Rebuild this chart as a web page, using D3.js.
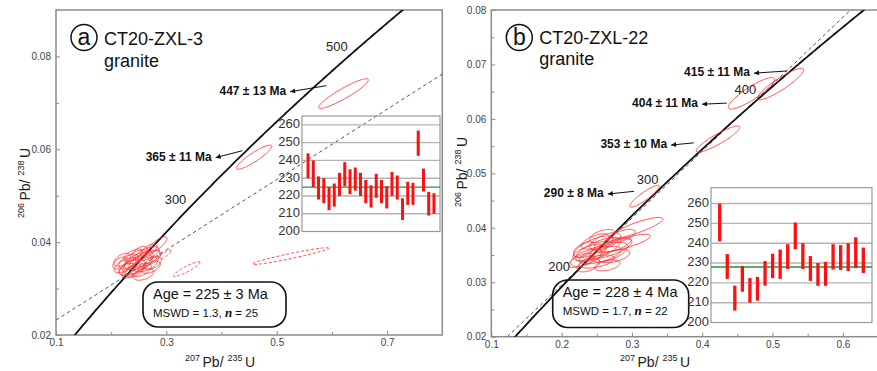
<!DOCTYPE html>
<html>
<head>
<meta charset="utf-8">
<script src="https://cdn.jsdelivr.net/npm/d3@7"></script>
<style>
  body { margin: 0; background: #fff; }
  svg { display: block; font-family: 'Liberation Sans', Arial, sans-serif; }
</style>
</head>
<body>
<div id="chart"></div>
<script>
// decay constants (1/yr)
var L238 = 1.55125e-10;
var L235 = 9.8485e-10;

// ---- panel a : CT20-ZXL-3 ----
// ellipse = [207/235, 206/238, half-width x, half-height y, rho]
var ellipsesA = [
  [0.225, 0.0350, 0.020, 0.0016, 0.6],
  [0.238, 0.0345, 0.024, 0.0017, 0.5],
  [0.250, 0.0360, 0.026, 0.0019, 0.6],
  [0.262, 0.0352, 0.022, 0.0016, 0.5],
  [0.245, 0.0368, 0.020, 0.0015, 0.6],
  [0.232, 0.0358, 0.018, 0.0016, 0.5],
  [0.270, 0.0365, 0.020, 0.0017, 0.6],
  [0.255, 0.0340, 0.018, 0.0014, 0.5],
  [0.240, 0.0372, 0.017, 0.0013, 0.6],
  [0.265, 0.0375, 0.022, 0.0015, 0.6],
  [0.220, 0.0362, 0.015, 0.0014, 0.5],
  [0.258, 0.0331, 0.019, 0.0013, 0.4],
  [0.248, 0.0352, 0.027, 0.0021, 0.6],
  [0.275, 0.0355, 0.016, 0.0014, 0.5],
  [0.235, 0.0336, 0.015, 0.0013, 0.5],
  [0.283, 0.0394, 0.018, 0.0018, 0.8],
  [0.268, 0.0382, 0.015, 0.0014, 0.6],
  [0.228, 0.0342, 0.013, 0.0013, 0.5],
  [0.252, 0.0378, 0.013, 0.0013, 0.5],
  [0.260, 0.0362, 0.028, 0.0021, 0.7],
  [0.243, 0.0340, 0.017, 0.0015, 0.5],
  [0.272, 0.0346, 0.017, 0.0013, 0.5],
  [0.216, 0.0355, 0.013, 0.0013, 0.5],
  [0.621, 0.0720, 0.045, 0.0032, 0.92],
  [0.459, 0.0583, 0.032, 0.0026, 0.90]
];
var dashedEllipsesA = [
  [0.337, 0.0342, 0.024, 0.0016, 0.91],
  [0.525, 0.0370, 0.069, 0.0018, 0.95],
  [0.297, 0.0373, 0.012, 0.0010, 0.85]
];
var discordiaA = [[0.1, 0.0232], [0.8, 0.0762]];
var concordiaLabelsA = [300, 500];
// [text, text end x, text y, arrow end x, arrow end y]
var annotationsA = [
  ['447 ± 13 Ma', 0.517, 0.0724, 0.590, 0.0737],
  ['365 ± 11 Ma', 0.382, 0.0582, 0.438, 0.0597]
];
// individual ages [low, high] Ma
var agesA = [
  [230, 244], [225, 240], [218, 231], [216, 230], [212, 225],
  [214, 227], [220, 233], [225.5, 239], [221, 235], [223, 236],
  [220, 233], [216, 229], [213.5, 226], [219, 232.5], [216, 229],
  [213, 225.5], [220, 233.5], [218, 231.5], [206.5, 218.7], [215, 228],
  [215, 227.4], [242.6, 256.8], [222.5, 235.4], [209, 222.3], [210, 221.5]
];
var meanAgeA = 225;
var xTicksA = [0.1, 0.3, 0.5, 0.7];
var xMinorA = [0.2, 0.4, 0.6];
var yTicksA = [0.02, 0.04, 0.06, 0.08];
var yMinorA = [0.03, 0.05, 0.07];
var insetDomainA = [200, 265];
var insetTicksA = [200, 210, 220, 230, 240, 250, 260];

// ---- panel b : CT20-ZXL-22 ----
var ellipsesB = [
  [0.307, 0.0400, 0.037, 0.0019, 0.85],
  [0.290, 0.0372, 0.036, 0.0016, 0.80],
  [0.270, 0.0362, 0.030, 0.0018, 0.70],
  [0.255, 0.0350, 0.030, 0.0016, 0.60],
  [0.245, 0.0365, 0.028, 0.0020, 0.70],
  [0.235, 0.0345, 0.022, 0.0016, 0.60],
  [0.262, 0.0375, 0.022, 0.0016, 0.60],
  [0.250, 0.0338, 0.025, 0.0012, 0.50],
  [0.240, 0.0355, 0.024, 0.0015, 0.60],
  [0.228, 0.0340, 0.018, 0.0013, 0.60],
  [0.275, 0.0348, 0.022, 0.0012, 0.50],
  [0.258, 0.0385, 0.018, 0.0012, 0.50],
  [0.265, 0.0331, 0.018, 0.0010, 0.40],
  [0.248, 0.0375, 0.020, 0.0014, 0.60],
  [0.285, 0.0385, 0.020, 0.0012, 0.60],
  [0.232, 0.0360, 0.015, 0.0014, 0.50],
  [0.268, 0.0355, 0.026, 0.0018, 0.60],
  [0.252, 0.0360, 0.032, 0.0022, 0.70],
  [0.238, 0.0331, 0.016, 0.0012, 0.50],
  [0.275, 0.0368, 0.024, 0.0014, 0.70],
  [0.318, 0.0458, 0.021, 0.0020, 0.90],
  [0.4225, 0.0563, 0.031, 0.0024, 0.90],
  [0.470, 0.0647, 0.033, 0.0029, 0.88],
  [0.5114, 0.0664, 0.033, 0.0029, 0.90]
];
var dashedEllipsesB = [];
var discordiaB = [[0.1227, 0.02], [0.611, 0.08]];
var concordiaLabelsB = [200, 300, 400];
var annotationsB = [
  ['415 ± 11 Ma', 0.468, 0.0684, 0.5205, 0.0688],
  ['404 ± 11 Ma', 0.394, 0.0627, 0.435, 0.0629],
  ['353 ± 10 Ma', 0.350, 0.0552, 0.388, 0.0556],
  ['290 ± 8 Ma', 0.260, 0.0462, 0.303, 0.0467]
];
var agesB = [
  [241, 260], [222, 234.5], [206, 218.6], [215.5, 228.5], [210, 222.4],
  [211, 223], [218.6, 231], [222.4, 234.7], [222, 236.8], [227, 239.5],
  [237, 250.4], [227, 240], [221, 233.5], [218.5, 230], [218.5, 230.6],
  [226.7, 239.5], [226.5, 239], [226, 240], [227.5, 243], [225, 237.8]
];
var meanAgeB = 228;
var xTicksB = [0.1, 0.2, 0.3, 0.4, 0.5, 0.6];
var xMinorB = [0.15, 0.25, 0.35, 0.45, 0.55, 0.65];
var yTicksB = [0.02, 0.03, 0.04, 0.05, 0.06, 0.07, 0.08];
var yMinorB = [0.025, 0.035, 0.045, 0.055, 0.065, 0.075];
var insetDomainB = [200, 268];
var insetTicksB = [200, 210, 220, 230, 240, 250, 260];

// ---- layout ----
var panels = [
  {
    key: 'a', title: 'CT20-ZXL-3', age: 'Age = 225 ± 3 Ma', mswd: '1.3', n: '25',
    left: 56, top: 10, right: 442.3, bottom: 335,
    xDomain: [0.1, 0.8], yDomain: [0.02, 0.09],
    xTicks: xTicksA, xMinor: xMinorA, yTicks: yTicksA, yMinor: yMinorA, xFmt: '.1f',
    ellipses: ellipsesA, dashed: dashedEllipsesA, discordia: discordiaA,
    concLabels: concordiaLabelsA, notes: annotationsA,
    ages: agesA, mean: meanAgeA, insetDomain: insetDomainA, insetTicks: insetTicksA,
    inset: {left: 302, right: 440, top: 116, bottom: 231.5, barW: 3},
    box: {x: 143, y: 282, w: 143, h: 45},
    titleY: 44.5, graniteY: 67, circleY: 37.5,
    yLabel: [25, 183], xLabelX: 185
  },
  {
    key: 'b', title: 'CT20-ZXL-22', age: 'Age = 228 ± 4 Ma', mswd: '1.7', n: '22',
    left: 491.3, top: 10, right: 881.5, bottom: 336.7,
    xDomain: [0.1, 0.655], yDomain: [0.02, 0.08],
    xTicks: xTicksB, xMinor: xMinorB, yTicks: yTicksB, yMinor: yMinorB, xFmt: '.1f',
    ellipses: ellipsesB, dashed: dashedEllipsesB, discordia: discordiaB,
    concLabels: concordiaLabelsB, notes: annotationsB,
    ages: agesB, mean: meanAgeB, insetDomain: insetDomainB, insetTicks: insetTicksB,
    inset: {left: 711, right: 872, top: 187.7, bottom: 322.5, barW: 3.3},
    box: {x: 552.7, y: 280, w: 136, h: 47.5},
    titleY: 43.5, graniteY: 65, circleY: 37.5,
    yLabel: [462, 172], xLabelX: 620
  }
];

var NBSP = '\u00a0';

var svg = d3.select('#chart').append('svg')
  .attr('width', 877)
  .attr('height', 371);

var defs = svg.append('defs');
defs.append('marker')
  .attr('id', 'arrow')
  .attr('viewBox', '0 0 10 10')
  .attr('refX', 10)
  .attr('refY', 5)
  .attr('markerWidth', 7)
  .attr('markerHeight', 5)
  .attr('orient', 'auto-start-reverse')
  .append('path')
  .attr('d', 'M0,0 L10,5 L0,10 z')
  .attr('fill', '#111');

function concordiaPoint(t) {
  return [Math.exp(L235 * t * 1e6) - 1, Math.exp(L238 * t * 1e6) - 1];
}

function ellipsePoints(e) {
  var pts = [];
  var k = Math.sqrt(1 - e[4] * e[4]);
  for (var i = 0; i <= 90; i++) {
    var a = i / 90 * 2 * Math.PI;
    pts.push([e[0] + e[2] * Math.cos(a), e[1] + e[3] * (e[4] * Math.cos(a) + k * Math.sin(a))]);
  }
  return pts;
}

panels.forEach(drawPanel);

function drawPanel(p) {
  var x = d3.scaleLinear().domain(p.xDomain).range([p.left, p.right]);
  var y = d3.scaleLinear().domain(p.yDomain).range([p.bottom, p.top]);
  var line = d3.line().x((d) => x(d[0])).y((d) => y(d[1]));
  var g = svg.append('g');

  defs.append('clipPath').attr('id', 'clip-' + p.key)
    .append('rect')
    .attr('x', p.left).attr('y', p.top)
    .attr('width', p.right - p.left).attr('height', p.bottom - p.top);

  // frame
  g.append('rect')
    .attr('x', p.left).attr('y', p.top)
    .attr('width', p.right - p.left).attr('height', p.bottom - p.top)
    .attr('fill', 'none')
    .attr('stroke', '#8a8a8a')
    .attr('stroke-width', 1.5);

  // axes, ticks pointing inward
  g.append('g').attr('transform', 'translate(' + p.left + ',0)')
    .call(d3.axisLeft(y).tickValues(p.yTicks).tickFormat(d3.format('.2f')).tickSize(-4).tickPadding(5));
  g.append('g').attr('transform', 'translate(' + p.left + ',0)')
    .call(d3.axisLeft(y).tickValues(p.yMinor).tickFormat('').tickSize(-3));
  g.append('g').attr('transform', 'translate(0,' + p.bottom + ')')
    .call(d3.axisBottom(x).tickValues(p.xTicks).tickFormat(d3.format(p.xFmt)).tickSize(-4).tickPadding(4));
  g.append('g').attr('transform', 'translate(0,' + p.bottom + ')')
    .call(d3.axisBottom(x).tickValues(p.xMinor).tickFormat('').tickSize(-3));
  g.selectAll('.domain').remove();
  g.selectAll('.tick line').attr('stroke', '#8a8a8a');
  g.selectAll('.tick text')
    .attr('fill', '#444')
    .style('font-size', '10px')
    .style('font-family', "'Liberation Sans', Arial, sans-serif");

  // axis titles
  var xt = g.append('text')
    .attr('x', p.xLabelX).attr('y', 367)
    .attr('fill', '#222');
  xt.append('tspan').attr('font-size', 9).attr('dy', -6).text('207' + NBSP);
  xt.append('tspan').attr('font-size', 14).attr('dy', 6).text('Pb/' + NBSP);
  xt.append('tspan').attr('font-size', 9).attr('dy', -6).text('235' + NBSP);
  xt.append('tspan').attr('font-size', 14).attr('dy', 6).text('U');

  var yt = g.append('text')
    .attr('transform', 'translate(' + (p.yLabel[0] + 5) + ',' + p.yLabel[1] + ') rotate(-90)')
    .attr('text-anchor', 'middle')
    .attr('fill', '#222');
  yt.append('tspan').attr('font-size', 9).attr('dy', -6).text('206' + NBSP);
  yt.append('tspan').attr('font-size', 14).attr('dy', 6).text('Pb/' + NBSP);
  yt.append('tspan').attr('font-size', 9).attr('dy', -6).text('238' + NBSP);
  yt.append('tspan').attr('font-size', 14).attr('dy', 6).text('U');

  // inset with individual ages
  drawInset(p);

  var plot = g.append('g').attr('clip-path', 'url(#clip-' + p.key + ')');

  // discordia (dashed)
  plot.append('path')
    .attr('d', line(p.discordia))
    .attr('fill', 'none')
    .attr('stroke', '#555')
    .attr('stroke-width', 1)
    .attr('stroke-dasharray', '3.5,3');

  // concordia
  var conc = d3.range(0, 702, 2).map(concordiaPoint);
  plot.append('path')
    .attr('d', line(conc))
    .attr('fill', 'none')
    .attr('stroke', '#111')
    .attr('stroke-width', 1.8);

  // error ellipses
  plot.selectAll('.ell')
    .data(p.ellipses)
    .enter().append('path')
    .attr('class', 'ell')
    .attr('d', (d) => line(ellipsePoints(d)))
    .attr('fill', 'none')
    .attr('stroke', '#ff3535')
    .attr('stroke-width', 0.85);

  plot.selectAll('.ell-dash')
    .data(p.dashed)
    .enter().append('path')
    .attr('class', 'ell-dash')
    .attr('d', (d) => line(ellipsePoints(d)))
    .attr('fill', 'none')
    .attr('stroke', '#ff3535')
    .attr('stroke-width', 0.9)
    .attr('stroke-dasharray', '3,2');

  // concordia age labels
  g.selectAll('.conc-label')
    .data(p.concLabels)
    .enter().append('text')
    .attr('class', 'conc-label')
    .attr('x', (d) => x(concordiaPoint(d)[0]) - 15)
    .attr('y', (d) => y(concordiaPoint(d)[1]) - 6)
    .attr('text-anchor', 'middle')
    .attr('dominant-baseline', 'middle')
    .attr('font-size', 13)
    .attr('fill', '#222')
    .text((d) => d);

  // spot age annotations
  var notes = g.selectAll('.note')
    .data(p.notes)
    .enter().append('g')
    .attr('class', 'note');
  notes.append('text')
    .attr('x', (d) => x(d[1]))
    .attr('y', (d) => y(d[2]))
    .attr('text-anchor', 'end')
    .attr('dominant-baseline', 'middle')
    .attr('font-size', 12)
    .attr('font-weight', 'bold')
    .attr('fill', '#111')
    .text((d) => d[0]);
  notes.append('path')
    .attr('d', (d) => 'M' + (x(d[1]) + 4) + ',' + y(d[2]) + 'L' + x(d[3]) + ',' + y(d[4]))
    .attr('stroke', '#111')
    .attr('stroke-width', 1)
    .attr('marker-start', 'url(#arrow)');

  // title
  var cx = p.left + 28;
  g.append('circle')
    .attr('cx', cx).attr('cy', p.circleY).attr('r', 13)
    .attr('fill', 'none').attr('stroke', '#111').attr('stroke-width', 1.5);
  g.append('text')
    .attr('x', cx).attr('y', p.circleY + 7.5)
    .attr('text-anchor', 'middle')
    .attr('font-size', 23)
    .attr('fill', '#111')
    .text(p.key);
  g.append('text')
    .attr('x', p.left + 48).attr('y', p.titleY)
    .attr('font-size', 18).attr('fill', '#111')
    .text(p.title);
  g.append('text')
    .attr('x', p.left + 48).attr('y', p.graniteY)
    .attr('font-size', 18).attr('fill', '#111')
    .text('granite');

  // weighted mean age box
  var b = p.box;
  g.append('rect')
    .attr('x', b.x).attr('y', b.y).attr('width', b.w).attr('height', b.h)
    .attr('rx', 15).attr('ry', 15)
    .attr('fill', 'none').attr('stroke', '#111').attr('stroke-width', 1.6);
  g.append('text')
    .attr('x', b.x + 10).attr('y', b.y + 16.5)
    .attr('font-size', 14.5).attr('fill', '#111')
    .text(p.age);
  var ms = g.append('text')
    .attr('x', b.x + 10).attr('y', b.y + 35)
    .attr('font-size', 11.5).attr('fill', '#111');
  ms.append('tspan').text('MSWD = ' + p.mswd + ',' + NBSP);
  ms.append('tspan')
    .attr('font-family', "'Liberation Serif', 'DejaVu Serif', serif")
    .attr('font-style', 'italic').attr('font-weight', 'bold')
    .attr('font-size', 13)
    .text('n');
  ms.append('tspan').text(NBSP + '= ' + p.n);
}

function drawInset(p) {
  var r = p.inset;
  var g = svg.append('g');
  var ys = d3.scaleLinear().domain(p.insetDomain).range([r.bottom, r.top]);
  var xs = d3.scalePoint()
    .domain(d3.range(p.ages.length))
    .range([r.left, r.right])
    .padding(1.15);

  g.selectAll('.grid')
    .data(p.insetTicks.slice(1))
    .enter().append('line')
    .attr('x1', r.left).attr('x2', r.right)
    .attr('y1', (d) => ys(d)).attr('y2', (d) => ys(d))
    .attr('stroke', '#b4b4b4')
    .attr('stroke-width', 1.4);

  g.append('rect')
    .attr('x', r.left).attr('y', r.top)
    .attr('width', r.right - r.left).attr('height', r.bottom - r.top)
    .attr('fill', 'none')
    .attr('stroke', '#999')
    .attr('stroke-width', 1.2);

  g.selectAll('.ilabel')
    .data(p.insetTicks)
    .enter().append('text')
    .attr('x', r.left - 2)
    .attr('y', (d) => ys(d))
    .attr('text-anchor', 'end')
    .attr('dominant-baseline', 'middle')
    .attr('font-size', 13)
    .attr('fill', '#333')
    .text((d) => d);

  g.append('line')
    .attr('x1', r.left).attr('x2', r.right)
    .attr('y1', ys(p.mean)).attr('y2', ys(p.mean))
    .attr('stroke', '#1f9a3a')
    .attr('stroke-width', 1.3);

  g.selectAll('.bar')
    .data(p.ages)
    .enter().append('rect')
    .attr('class', 'bar')
    .attr('x', (d, i) => xs(i) - r.barW / 2)
    .attr('y', (d) => ys(d[1]))
    .attr('width', r.barW)
    .attr('height', (d) => ys(d[0]) - ys(d[1]))
    .attr('fill', '#ff1010');
}
</script>
</body>
</html>
